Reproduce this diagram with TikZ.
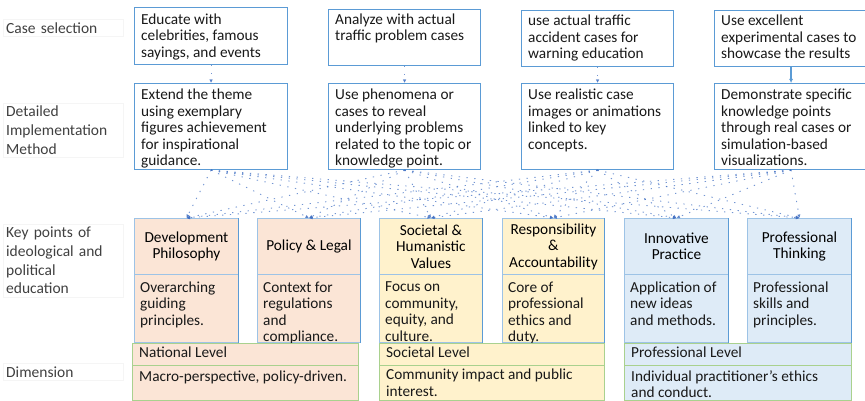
\documentclass[tikz,border=0pt]{standalone}
\usepackage{fontspec}
\setmainfont{Carlito}
\usetikzlibrary{arrows.meta}

\definecolor{boxblue}{HTML}{5B9BD5}
\definecolor{keyedge}{HTML}{9DC3E6}
\definecolor{peach}{HTML}{FBE5D6}
\definecolor{cream}{HTML}{FFF2CC}
\definecolor{skyfill}{HTML}{DEEBF7}
\definecolor{leaf}{HTML}{A9D18E}
\definecolor{linkblue}{HTML}{4472C4}
\definecolor{labelgray}{HTML}{404040}

\tikzset{
  boxfont/.style={font=\fontsize{15.3}{16.5}\selectfont},
  rowlabel/.style={anchor=west, inner sep=3pt, draw=black!4, text width=114pt,
    align=left, text=labelgray, font=\fontsize{15.5}{18.8}\selectfont},
  casebox/.style={anchor=north west, draw=boxblue, line width=1.1pt, fill=white,
    inner sep=0pt, minimum height=#1},
  keyhead/.style={anchor=north west, draw=keyedge, line width=0.9pt, inner sep=0pt,
    minimum height=56pt, align=center, boxfont},
  keybody/.style={anchor=north west, draw=keyedge, line width=0.9pt, inner sep=0pt,
    minimum height=68pt},
  dimhead/.style={anchor=north west, draw=leaf, line width=1pt, inner sep=0pt,
    minimum height=22pt},
  dimbody/.style={anchor=north west, draw=leaf, line width=1pt, inner sep=0pt,
    minimum height=35pt},
  inner/.style={anchor=north west, inner sep=0pt, align=left, boxfont, text=black!90},
  link/.style={draw=linkblue, line width=0.9pt, dash pattern=on 1.3pt off 6.5pt,
    opacity=0.75, -{Latex[length=3.5pt,width=3.5pt]}},
  solidlink/.style={draw=boxblue, line width=1.3pt, -{Latex[length=4pt,width=4pt]}},
}

\begin{document}
\begin{tikzpicture}[x=1pt,y=-1pt]
\useasboundingbox (0,0) rectangle (865,401);

% row labels
\node[rowlabel] (l1) at (3,28) {Case selection};
\node[rowlabel] (l2) at (3,130) {Detailed\\Implementation\\Method};
\node[rowlabel] (l3) at (3,260.5) {Key points of\\ideological and\\political\\education};
\node[rowlabel] (l4) at (3,372) {Dimension};

% case selection boxes
\node[casebox=57pt, minimum width=153pt] (c1) at (134,7) {};
\node[casebox=56pt, minimum width=152pt] (c2) at (328,9) {};
\node[casebox=56pt, minimum width=152pt] (c3) at (521,10) {};
\node[casebox=56pt, minimum width=153pt] (c4) at (714,10) {};
\node[inner] (c1t) at ([xshift=7pt,yshift=-6.5pt]c1.north west) {Educate with\\celebrities, famous\\sayings, and events};
\node[inner] (c2t) at ([xshift=7pt,yshift=-4.5pt]c2.north west) {Analyze with actual\\traffic problem cases};
\node[inner] (c3t) at ([xshift=7pt,yshift=-5pt]c3.north west) {use actual traffic\\accident cases for\\warning education};
\node[inner] (c4t) at ([xshift=7pt,yshift=-5pt]c4.north west) {Use excellent\\experimental cases to\\showcase the results};

% implementation method boxes
\node[casebox=86pt, minimum width=153pt] (m1) at (134,83) {};
\node[casebox=86pt, minimum width=152pt] (m2) at (328,83) {};
\node[casebox=86pt, minimum width=152pt] (m3) at (521,83) {};
\node[casebox=86pt, minimum width=153pt] (m4) at (714,83) {};
\node[inner] (m1t) at ([xshift=7pt,yshift=-6pt]m1.north west) {Extend the theme\\using exemplary\\figures achievement\\for inspirational\\guidance.};
\node[inner] (m2t) at ([xshift=7pt,yshift=-6pt]m2.north west) {Use phenomena or\\cases to reveal\\underlying problems\\related to the topic or\\knowledge point.};
\node[inner] (m3t) at ([xshift=7pt,yshift=-6pt]m3.north west) {Use realistic case\\images or animations\\linked to key\\concepts.};
\node[inner] (m4t) at ([xshift=7pt,yshift=-6pt]m4.north west) {Demonstrate specific\\knowledge points\\through real cases or\\simulation-based\\visualizations.};

% key points: headings
\node[keyhead, fill=peach, minimum width=104pt] (k1) at (134,218) {Development\\Philosophy};
\node[keyhead, fill=peach, minimum width=103pt] (k2) at (257,218) {Policy \& Legal};
\node[keyhead, fill=cream, minimum width=103pt] (k3) at (379,218) {Societal \&\\Humanistic\\Values};
\node[keyhead, fill=cream, minimum width=102pt] (k4) at (502,218) {Responsibility\\\&\\Accountability};
\node[keyhead, fill=skyfill, minimum width=104pt] (k5) at (624,218) {Innovative\\Practice};
\node[keyhead, fill=skyfill, minimum width=104pt] (k6) at (747,218) {Professional\\Thinking};

% key points: descriptions
\node[keybody, fill=peach, minimum width=104pt] (b1) at (134,274) {};
\node[keybody, fill=peach, minimum width=103pt] (b2) at (257,274) {};
\node[keybody, fill=cream, minimum width=103pt] (b3) at (379,274) {};
\node[keybody, fill=cream, minimum width=102pt] (b4) at (502,274) {};
\node[keybody, fill=skyfill, minimum width=104pt] (b5) at (624,274) {};
\node[keybody, fill=skyfill, minimum width=104pt] (b6) at (747,274) {};
\foreach \i in {1,...,6}{
  \draw[boxblue, line width=1pt] (k\i.north east) -- (b\i.south east);
}
\node[inner] (b1t) at ([xshift=6pt,yshift=-7.5pt]b1.north west) {Overarching\\guiding\\principles.};
\node[inner] (b2t) at ([xshift=6pt,yshift=-7.5pt]b2.north west) {Context for\\regulations\\and\\compliance.};
\node[inner] (b3t) at ([xshift=6pt,yshift=-7.5pt]b3.north west) {Focus on\\community,\\equity, and\\culture.};
\node[inner] (b4t) at ([xshift=6pt,yshift=-7.5pt]b4.north west) {Core of\\professional\\ethics and\\duty.};
\node[inner] (b5t) at ([xshift=6pt,yshift=-7.5pt]b5.north west) {Application of\\new ideas\\and methods.};
\node[inner] (b6t) at ([xshift=6pt,yshift=-7.5pt]b6.north west) {Professional\\skills and\\principles.};

% dimension boxes
\node[dimhead, fill=peach, minimum width=226pt] (d1) at (132,343) {};
\node[dimhead, fill=cream, minimum width=225pt] (d2) at (379,343) {};
\node[dimhead, fill=skyfill, minimum width=227pt] (d3) at (624,343) {};
\node[dimbody, fill=peach, minimum width=226pt] (e1) at (132,365) {};
\node[dimbody, fill=cream, minimum width=225pt] (e2) at (379,365) {};
\node[dimbody, fill=skyfill, minimum width=227pt] (e3) at (624,365) {};
\node[inner] (d1t) at ([xshift=7pt,yshift=-4pt]d1.north west) {National Level};
\node[inner] (d2t) at ([xshift=7pt,yshift=-4pt]d2.north west) {Societal Level};
\node[inner] (d3t) at ([xshift=7pt,yshift=-4pt]d3.north west) {Professional Level};
\node[inner] (e1t) at ([xshift=7pt,yshift=-5.5pt]e1.north west) {Macro-perspective, policy-driven.};
\node[inner] (e2t) at ([xshift=7pt,yshift=-4pt]e2.north west) {Community impact and public\\interest.};
\node[inner] (e3t) at ([xshift=7pt,yshift=-5.5pt]e3.north west) {Individual practitioner’s ethics\\and conduct.};

% case selection -> implementation method
\draw[link] (c1) -- (m1);
\draw[link] (c2) -- (m2);
\draw[link] (c3) -- (m3);
\draw[solidlink] (c4) -- (m4);

% implementation method -> key points
\foreach \i in {1,...,4}{
  \foreach \j in {1,...,6}{
    \draw[link] (m\i.south) -- (k\j.north);
  }
}
\end{tikzpicture}
\end{document}
